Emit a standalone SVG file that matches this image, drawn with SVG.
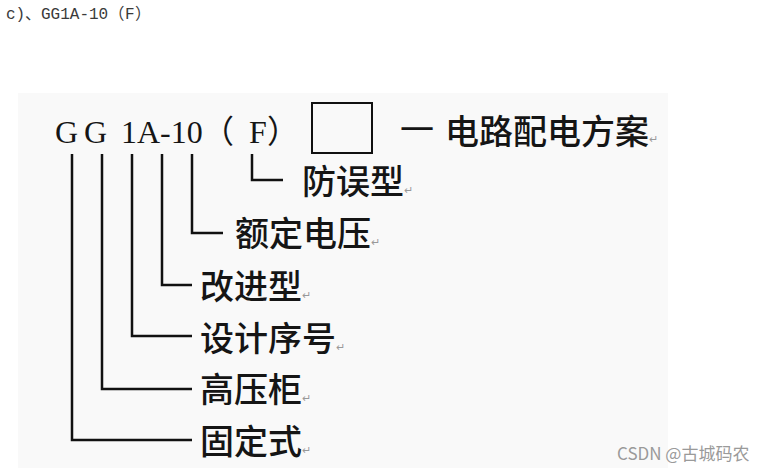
<svg xmlns="http://www.w3.org/2000/svg" width="769" height="472" viewBox="0 0 769 472">
  <style>
    .cap { font-family: "Liberation Mono", "Noto Sans CJK SC", monospace; font-size: 16px; fill: #3a3a3a; }
    .capcjk { font-family: "Noto Sans CJK SC", sans-serif; font-size: 16px; }
    .code { font-family: "Liberation Serif", "Noto Sans CJK SC", serif; font-size: 32px; fill: #151515; }
    .cjk { font-family: "Noto Sans CJK SC", sans-serif; }
    .lbl { font-family: "Noto Sans CJK SC", sans-serif; font-size: 34px; fill: #151515; font-weight: 500; }
    .ret { font-size: 11px; fill: #999999; font-weight: 400; }
    .wm { font-family: "Noto Sans CJK SC", sans-serif; font-size: 17px; fill: #9a9a9a; }
    .ln { fill: none; stroke: #111111; stroke-width: 2.5; stroke-linejoin: miter; }
  </style>

  <rect x="0" y="0" width="769" height="472" fill="#ffffff"/>
  <rect x="18" y="93" width="650" height="375" fill="#f9f9f9"/>

  <g id="caption">
    <text class="cap" x="6" y="19">c)<tspan class="capcjk" x="25">、</tspan><tspan x="41">GG1A-10</tspan><tspan class="capcjk" x="108.5">（</tspan><tspan x="125">F</tspan><tspan class="capcjk" x="135">）</tspan></text>
  </g>

  <g id="model-code">
    <text class="code" x="55" y="143">G<tspan x="84">G</tspan><tspan x="121">1A-10</tspan><tspan class="cjk" x="202">（</tspan><tspan x="249">F</tspan><tspan class="cjk" x="267">）</tspan></text>
  </g>

  <g id="scheme-box">
    <rect x="312" y="103" width="60" height="50" fill="none" stroke="#111111" stroke-width="2"/>
  </g>

  <g id="scheme-label">
    <text class="lbl" x="400" y="142"><tspan font-weight="400">一</tspan><tspan x="445" y="144">电路配电方案</tspan><tspan class="ret" y="143">↵</tspan></text>
  </g>

  <g id="connectors">
    <path class="ln" d="M72 154 V440 H192"/>
    <path class="ln" d="M102 154 V389 H192"/>
    <path class="ln" d="M132 154 V336 H192"/>
    <path class="ln" d="M162 154 V285 H192"/>
    <path class="ln" d="M192 154 V233 H223"/>
    <path class="ln" d="M252 154 V180 H283"/>
  </g>

  <g id="label-fangwu">
    <text class="lbl" x="302" y="194">防误型<tspan class="ret">↵</tspan></text>
  </g>
  <g id="label-eding">
    <text class="lbl" x="235" y="246">额定电压<tspan class="ret">↵</tspan></text>
  </g>
  <g id="label-gaijin">
    <text class="lbl" x="200" y="299">改进型<tspan class="ret">↵</tspan></text>
  </g>
  <g id="label-sheji">
    <text class="lbl" x="200" y="351">设计序号<tspan class="ret">↵</tspan></text>
  </g>
  <g id="label-gaoya">
    <text class="lbl" x="200" y="402">高压柜<tspan class="ret">↵</tspan></text>
  </g>
  <g id="label-guding">
    <text class="lbl" x="200" y="454">固定式<tspan class="ret">↵</tspan></text>
  </g>

  <g id="watermark">
    <text class="wm" x="617" y="460">CSDN @古城码农</text>
  </g>
</svg>
